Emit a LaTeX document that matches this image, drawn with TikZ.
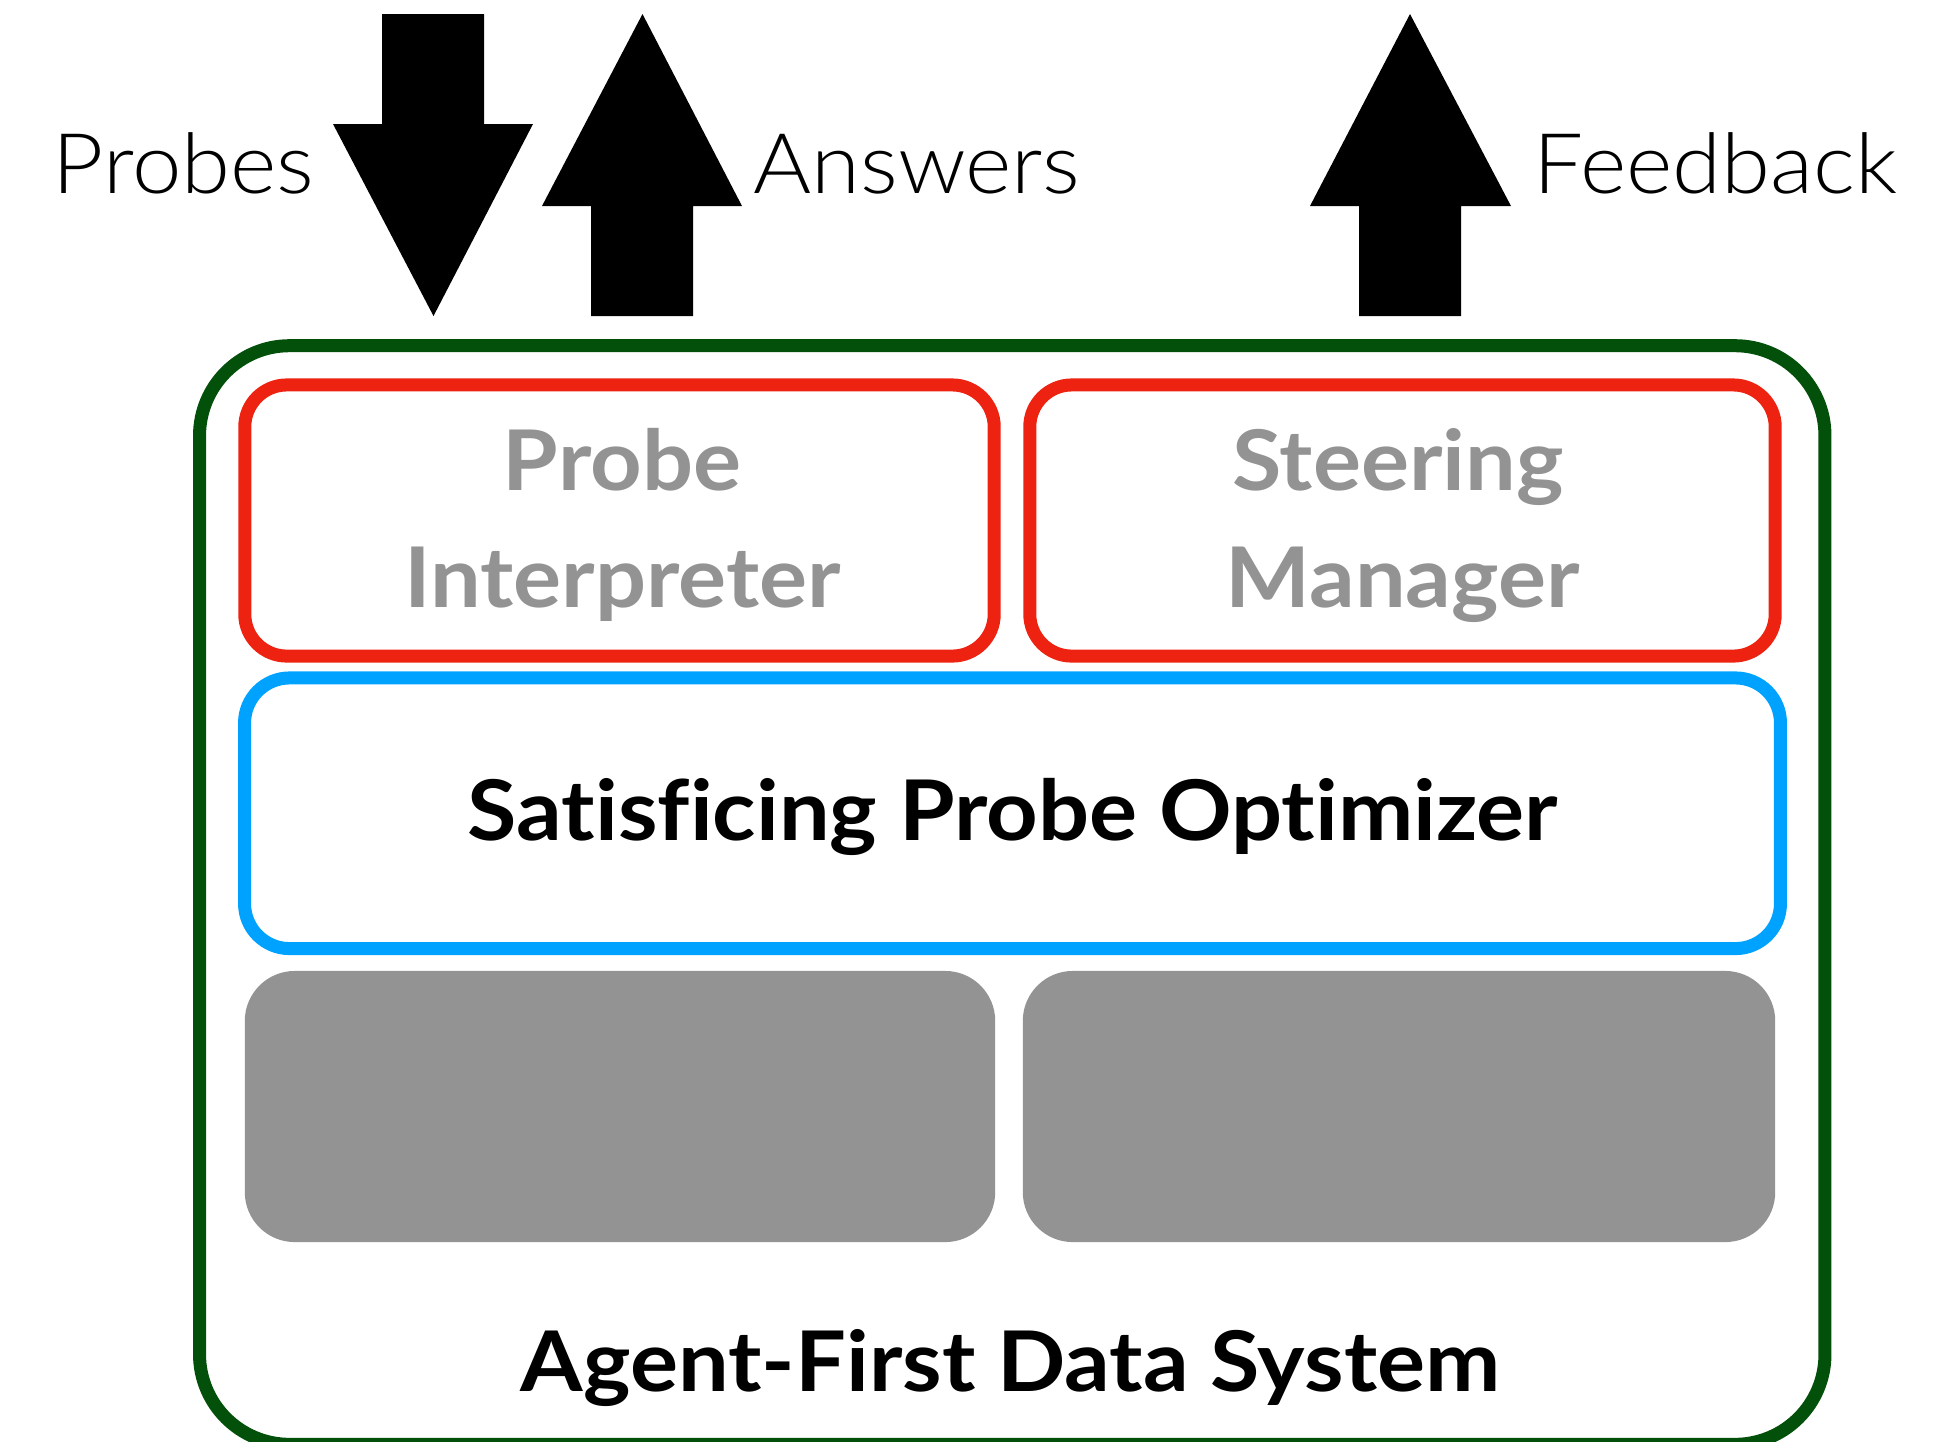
\documentclass[tikz,border=0pt]{standalone}
\usepackage{fontspec}
\setmainfont{Lato}[Ligatures=NoCommon, FakeStretch=1.075]
\newfontfamily\lightfont{Lato Light}[Ligatures=NoCommon, FakeStretch=1.06]
\definecolor{dgreen}{RGB}{3,80,10}
\definecolor{bred}{RGB}{238,34,17}
\definecolor{bblue}{RGB}{0,162,255}
\definecolor{bgray}{RGB}{147,147,147}
\tikzset{
  box/.style={rectangle, inner sep=0pt, outer sep=0pt},
  sysbox/.style={box, draw=dgreen, line width=1.3mm, rounded corners=9mm},
  compbox/.style={box, draw=bred, line width=1.3mm, rounded corners=4.2mm},
  optbox/.style={box, draw=bblue, line width=1.3mm, rounded corners=4.5mm},
  graybox/.style={box, fill=bgray, rounded corners=5mm},
  toplabel/.style={anchor=base, inner sep=0pt, font=\lightfont\fontsize{23.8pt}{28pt}\selectfont},
  graylabel/.style={anchor=base, inner sep=0pt, text=bgray, font=\bfseries\fontsize{23.8pt}{28pt}\selectfont},
  blacklabel/.style={anchor=base, inner sep=0pt, text=black, font=\bfseries\fontsize{23.8pt}{28pt}\selectfont},
  blockarrow/.style={fill=black}
}
\begin{document}
\begin{tikzpicture}[x=0.01cm, y=-0.01cm]
\useasboundingbox (0,0) rectangle (1942,1441);
% outer system box
\node[sysbox, minimum width=162.45mm, minimum height=109.8mm] (sys) at (1012.25,895) {};
% component boxes
\node[compbox, minimum width=74.9mm, minimum height=27.1mm] (interp) at (619.5,520.5) {};
\node[compbox, minimum width=74.5mm, minimum height=27.1mm] (steer) at (1402.5,520.5) {};
\node[optbox, minimum width=153.5mm, minimum height=27.05mm] (opt) at (1012.5,813.25) {};
\node[graybox, minimum width=75mm, minimum height=27.1mm] (g1) at (620,1106.5) {};
\node[graybox, minimum width=75.2mm, minimum height=27.1mm] (g2) at (1399,1106.5) {};
% labels
\node[graylabel] (pi1) at (622,490) {Probe};
\node[graylabel] (pi2) at (622.5,607) {Interpreter};
\node[graylabel] (sm1) at (1398,490) {Steering};
\node[graylabel] (sm2) at (1402.5,607) {Manager};
\node[blacklabel] (optl) at (1013,840) {Satisficing Probe Optimizer};
\node[blacklabel] (sysl) at (1010.5,1391) {Agent-First Data System};
\node[toplabel] (probes) at (183.5,193) {Probes};
\node[toplabel] (answers) at (917,193) {Answers};
\node[toplabel] (feedback) at (1715.5,193) {Feedback};
% block arrows
\fill[blockarrow] (382,14) -- (484,14) -- (484,124) -- (533,124) -- (433.5,316) -- (333,124) -- (382,124) -- cycle;
\fill[blockarrow] (642.5,14) -- (742,206) -- (693,206) -- (693,316) -- (591,316) -- (591,206) -- (542,206) -- cycle;
\fill[blockarrow] (1410,14) -- (1511,206) -- (1461,206) -- (1461,316) -- (1359,316) -- (1359,206) -- (1310,206) -- cycle;
\end{tikzpicture}
\end{document}
